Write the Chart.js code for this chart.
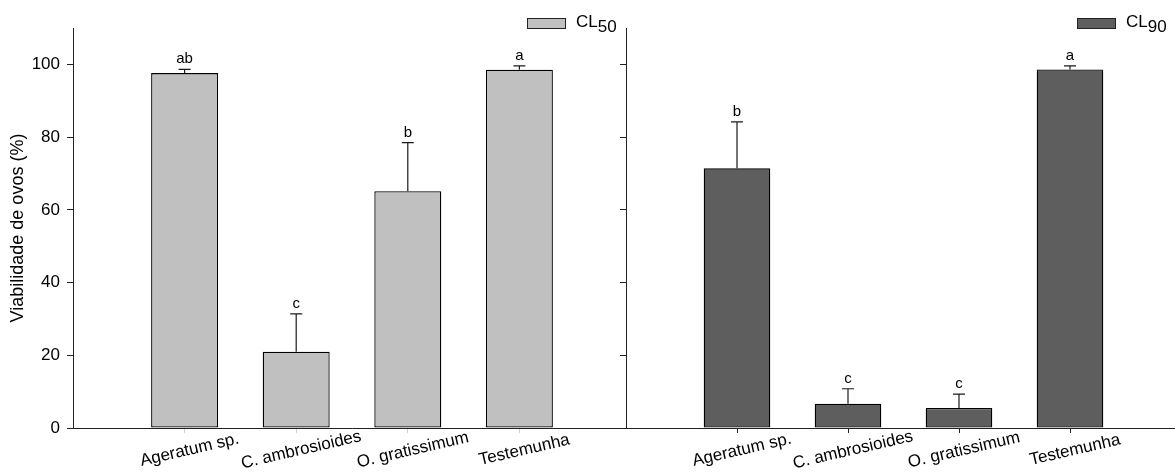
<!DOCTYPE html>
<html>
<head>
<meta charset="utf-8">
<script src="https://cdn.jsdelivr.net/npm/chart.js@4"></script>
<style>
  html, body { margin: 0; padding: 0; background: #fff; overflow: hidden; }
  #wrap { position: relative; width: 1175px; height: 474px; overflow: hidden; }
  #left { position: absolute; left: 0; top: 0; }
  #right { position: absolute; left: 600px; top: 0; }
</style>
</head>
<body>
<div id="wrap">
  <canvas id="left" width="631" height="474"></canvas>
  <canvas id="right" width="581" height="474"></canvas>
</div>
<script>
// treatments
const categories = ['Ageratum sp.', 'C. ambrosioides', 'O. gratissimum', 'Testemunha'];

// CL50 panel
const cl50Values = [97.6, 21.0, 65.1, 98.5];
const cl50Errors = [1.0, 10.4, 13.4, 1.1];
const cl50Letters = ['ab', 'c', 'b', 'a'];

// CL90 panel
const cl90Values = [71.4, 6.7, 5.5, 98.6];
const cl90Errors = [12.8, 4.1, 3.8, 1.0];
const cl90Letters = ['b', 'c', 'c', 'a'];

const yTicks = [0, 20, 40, 60, 80, 100];

const FONT = '"Liberation Sans", Arial, sans-serif';

// blank slot at each end so the bars sit one step in from the axes
const labels = [''].concat(categories, ['']);
const pad = arr => [null].concat(arr, [null]);

const extrasPlugin = {
  id: 'extras',
  afterDatasetsDraw(chart, args, opts) {
    const c = chart.ctx;
    const x = chart.scales.x, y = chart.scales.y;
    const area = chart.chartArea;
    c.save();
    // error bars + letters
    opts.values.forEach((v, i) => {
      const px = x.getPixelForValue(i + 1);
      const top = y.getPixelForValue(v + opts.errors[i]);
      const base = y.getPixelForValue(v);
      c.strokeStyle = '#1a1a1a';
      c.lineWidth = 1.2;
      c.beginPath();
      c.moveTo(px, base);
      c.lineTo(px, top);
      c.moveTo(px - 6, top);
      c.lineTo(px + 6, top);
      c.stroke();
      c.fillStyle = '#000';
      c.font = '15px ' + FONT;
      c.textAlign = 'center';
      c.textBaseline = 'alphabetic';
      c.fillText(opts.letters[i], px, top - 6);
    });
    // rotated category labels
    categories.forEach((name, i) => {
      const px = x.getPixelForValue(i + 1);
      c.save();
      c.translate(px + 5, area.bottom + 22);
      c.rotate(-13 * Math.PI / 180);
      c.font = '17px ' + FONT;
      c.fillStyle = '#000';
      c.textAlign = 'center';
      c.textBaseline = 'middle';
      c.fillText(name, 0, 0);
      c.restore();
    });
    // legend with subscript
    const bx = area.right - 104;
    c.fillStyle = opts.color;
    c.fillRect(bx, 18, 39, 11);
    c.strokeStyle = '#222';
    c.lineWidth = 1;
    c.strokeRect(bx + 0.5, 18.5, 38, 10);
    c.fillStyle = '#000';
    c.font = '17px ' + FONT;
    c.textAlign = 'left';
    c.textBaseline = 'alphabetic';
    c.fillText('CL', bx + 49, 27);
    const w = c.measureText('CL').width;
    c.fillText(opts.sub, bx + 49 + w, 32);
    c.restore();
  }
};

function makeChart(id, values, errors, letters, color, sub, isLeft) {
  return new Chart(document.getElementById(id), {
    type: 'bar',
    data: {
      labels: labels,
      datasets: [{
        label: 'CL' + sub,
        data: pad(values),
        backgroundColor: color,
        borderColor: '#000',
        borderWidth: 1.3,
        borderSkipped: false,
        barPercentage: 0.6,
        categoryPercentage: 1.0
      }]
    },
    options: {
      responsive: false,
      animation: false,
      layout: { padding: { top: 28, right: 0, left: 0, bottom: 0 } },
      plugins: {
        legend: { display: false },
        tooltip: { enabled: false },
        extras: { values: values, errors: errors, letters: letters, color: color, sub: sub }
      },
      scales: {
        x: {
          offset: false,
          afterFit: s => { s.height = 46; },
          ticks: { display: false },
          grid: {
            display: true,
            offset: false,
            drawOnChartArea: false,
            drawTicks: true,
            tickLength: 5,
            color: ctx => (ctx.index === 0 || ctx.index === labels.length - 1) ? 'rgba(0,0,0,0)' : (isLeft ? '#cfcfcf' : '#222')
          },
          border: { display: true, color: '#222', width: 1 }
        },
        y: {
          min: 0,
          max: 110,
          afterFit: s => { s.width = isLeft ? 73 : 26; },
          afterBuildTicks: s => { s.ticks = yTicks.map(v => ({ value: v })); },
          ticks: {
            display: isLeft,
            color: '#000',
            padding: 7,
            font: { family: FONT, size: 17 }
          },
          grid: {
            display: true,
            drawOnChartArea: false,
            drawTicks: true,
            tickLength: 6,
            color: '#222'
          },
          border: { display: true, color: '#222', width: 1 },
          title: {
            display: isLeft,
            text: 'Viabilidade de ovos (%)',
            color: '#000',
            font: { family: FONT, size: 18 },
            padding: { top: 7, bottom: 0 }
          }
        }
      }
    },
    plugins: [extrasPlugin]
  });
}

makeChart('left', cl50Values, cl50Errors, cl50Letters, '#c0c0c0', '50', true);
makeChart('right', cl90Values, cl90Errors, cl90Letters, '#5e5e5e', '90', false);
</script>
</body>
</html>
